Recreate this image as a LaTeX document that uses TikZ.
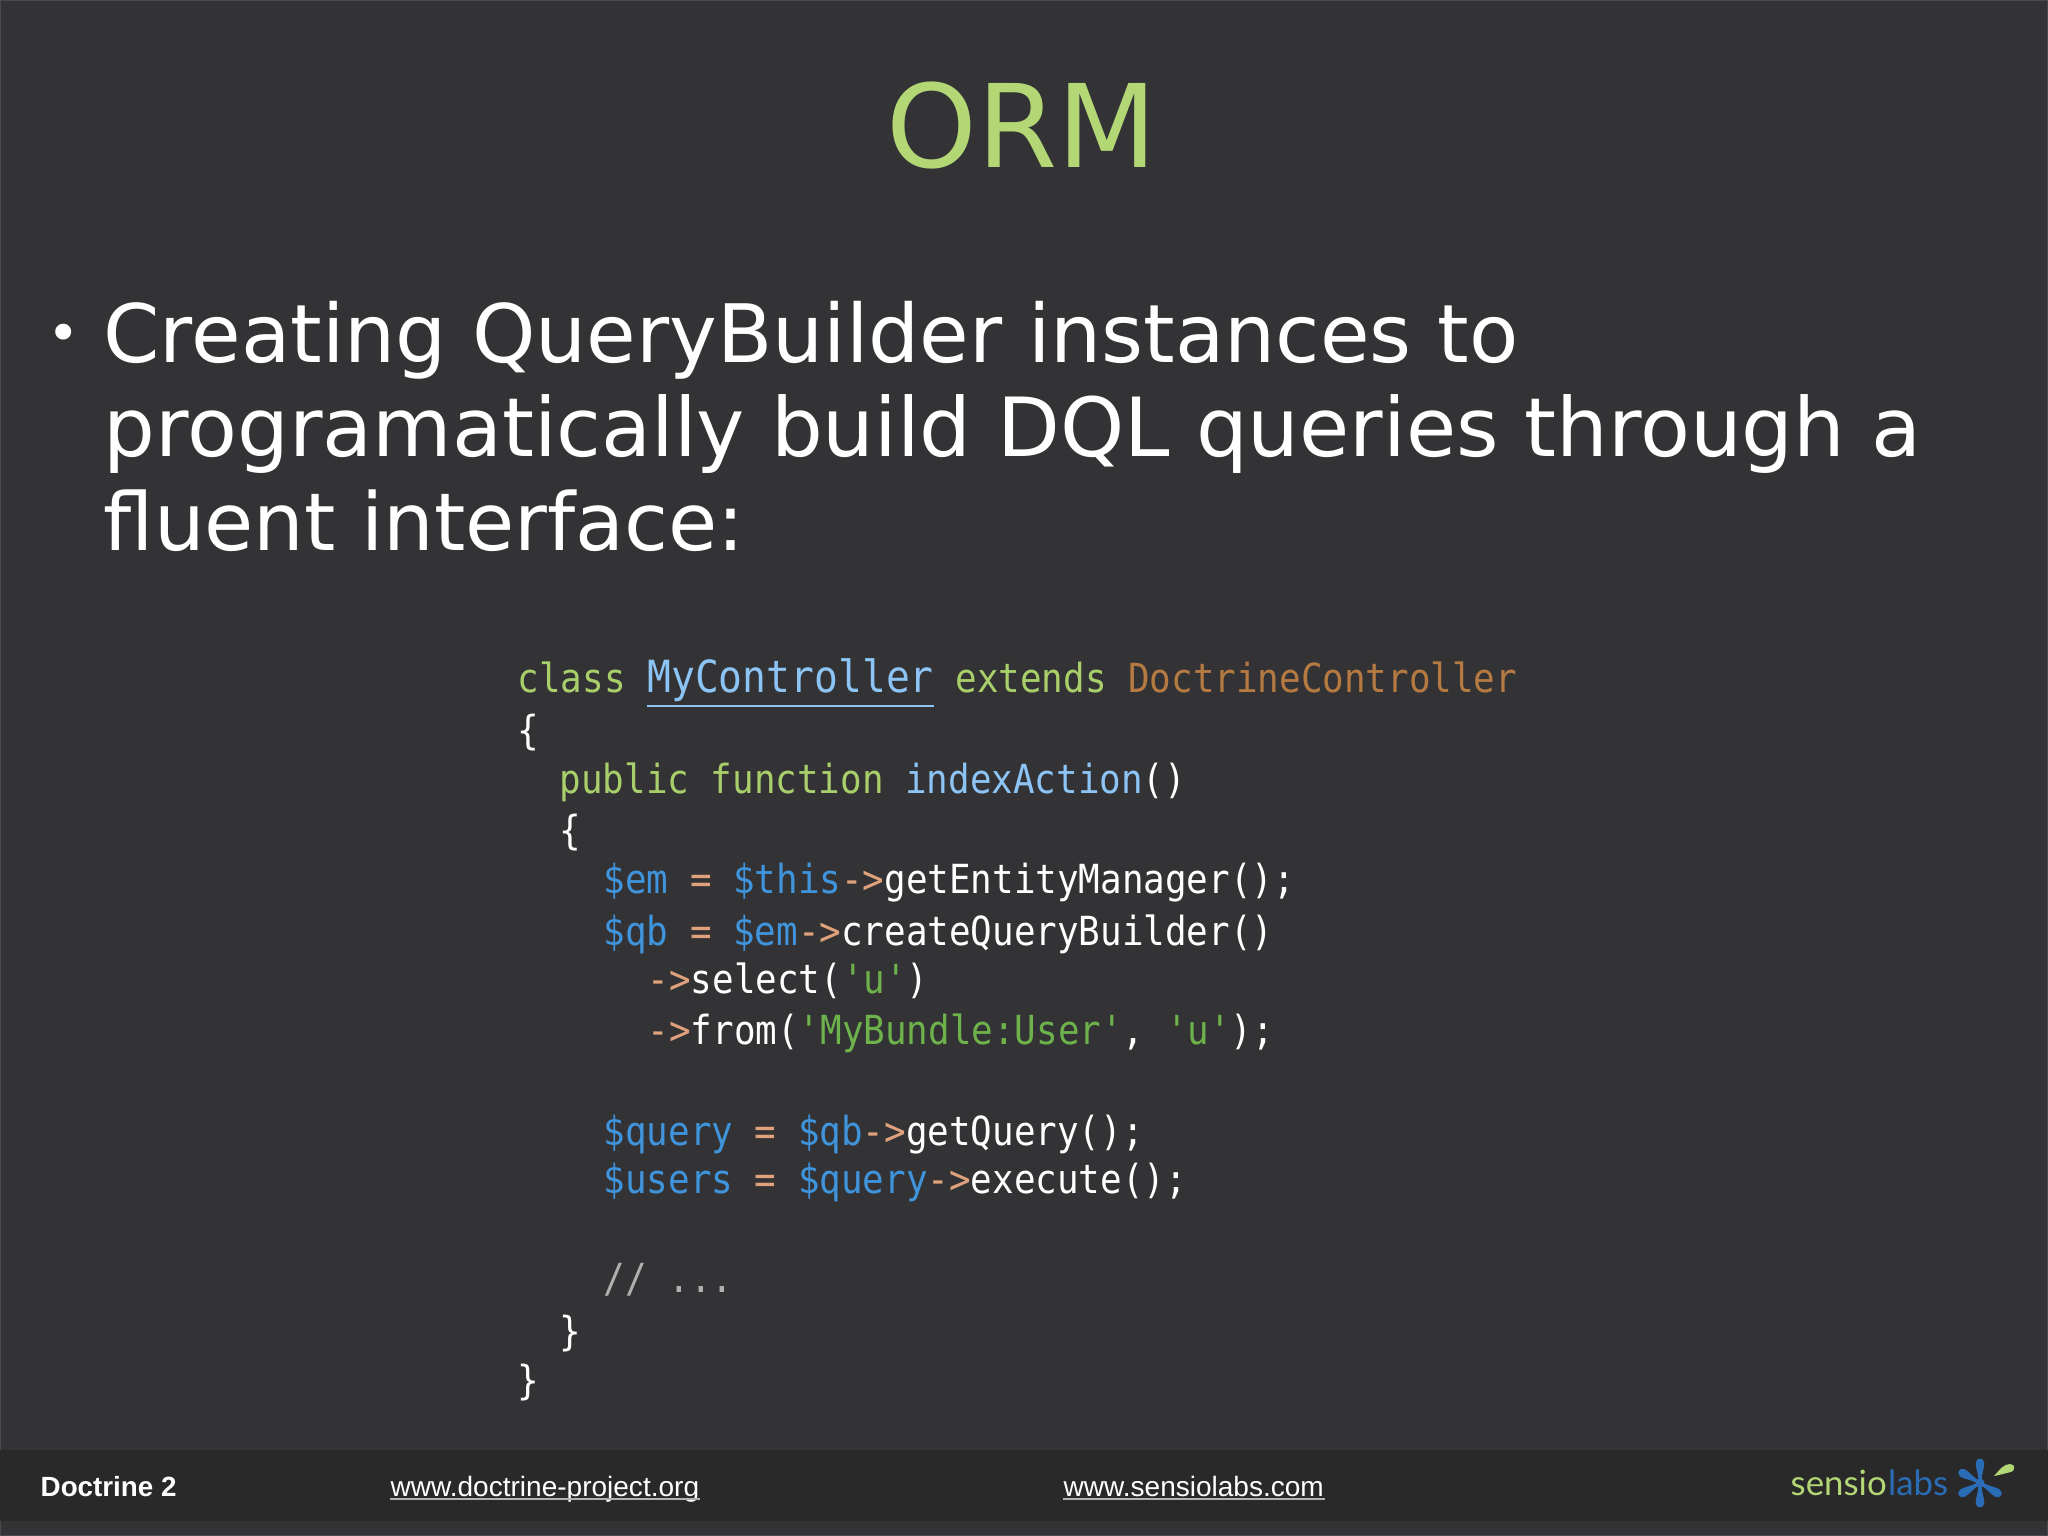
\documentclass[tikz,border=0pt]{standalone}
\usepackage{fontspec}
\usepackage{xcolor}
\setmainfont{DejaVu Sans}
\setmonofont[FakeStretch=0.895]{DejaVu Sans Mono}
\newfontfamily\footfont{Liberation Sans}
\newfontfamily\logofont{Lato}
\definecolor{slidebg}{HTML}{333335}
\definecolor{slideedge}{HTML}{4A4A4C}
\definecolor{footbg}{HTML}{29292A}
\definecolor{titlegreen}{HTML}{B3D775}
\definecolor{kwgreen}{HTML}{A9CF6B}
\definecolor{fnblue}{HTML}{8CC4F5}
\definecolor{varblue}{HTML}{3F94DC}
\definecolor{opsalmon}{HTML}{E0A27C}
\definecolor{strgreen}{HTML}{6DB24A}
\definecolor{parentbrown}{HTML}{B57A42}
\definecolor{commentgrey}{HTML}{B0B0B0}
\definecolor{logoblue}{HTML}{2A6CB5}
\newcommand{\codekw}[1]{\textcolor{kwgreen}{#1}}
\newcommand{\codefn}[1]{\textcolor{fnblue}{#1}}
\newcommand{\codevar}[1]{\textcolor{varblue}{#1}}
\newcommand{\codeop}[1]{\textcolor{opsalmon}{#1}}
\newcommand{\codestr}[1]{\textcolor{strgreen}{#1}}
\tikzset{
  titletext/.style={anchor=base, inner sep=0pt, text=titlegreen, font=\fontsize{32.8}{32.8}\selectfont},
  bodytext/.style={anchor=base west, inner sep=0pt, text=white, font=\fontsize{#1}{#1}\selectfont},
  bodytext/.default=23,
  codeline/.style={anchor=base west, inner sep=0pt, text=white, font=\ttfamily\fontsize{11.4}{11.4}\selectfont},
  foottext/.style={anchor=base west, inner sep=0pt, text=white, font=\footfont\fontsize{7.97}{7.97}\selectfont},
  logotext/.style={anchor=base west, inner sep=0pt, font=\logofont\fontsize{9.9}{9.9}\selectfont},
  footrule/.style={draw=white!70!black, line width=0.45pt},
  petal/.style={fill=logoblue, draw=none}
}
\begin{document}
\begin{tikzpicture}[x=0.01cm, y=-0.01cm]
\useasboundingbox (0,0) rectangle (2048,1536);
\fill[slidebg] (0,0) rectangle (2048,1536);
\draw[slideedge, line width=0.6pt] (0,0) rectangle (2048,1536);
\fill[footbg] (0,1450) rectangle (2048,1521);

\node[titletext] (title) at (1022,167) {ORM};

\node[bodytext=15.6] (bullet) at (47,352) {•};
\node[bodytext=22.93] (bodya) at (103,362) {Creating QueryBuilder instances to};
\node[bodytext=23.2] (bodyb) at (103,456) {programatically build DQL queries through a};
\node[bodytext=22.73] (bodyc) at (103,550) {fluent interface:};

% code lines
\node[codeline] (codea) at (517,692) {\codekw{class} \textcolor{fnblue}{\fontsize{12.6}{12.6}\selectfont\underline{MyController}} \codekw{extends} \textcolor{parentbrown}{DoctrineController}};
\node[codeline] (codeb) at (517,744) {\{};
\node[codeline] (codec) at (559,793) {\codekw{public function} \codefn{indexAction}()};
\node[codeline] (coded) at (559,844) {\{};
\node[codeline] (codee) at (603,893) {\codevar{\$em} \codeop{=} \codevar{\$this}\codeop{->}getEntityManager();};
\node[codeline] (codef) at (603,945) {\codevar{\$qb} \codeop{=} \codevar{\$em}\codeop{->}createQueryBuilder()};
\node[codeline] (codeg) at (647,993) {\codeop{->}select(\codestr{'u'})};
\node[codeline] (codeh) at (647,1044) {\codeop{->}from(\codestr{'MyBundle:User'}, \codestr{'u'});};
\node[codeline] (codei) at (603,1145) {\codevar{\$query} \codeop{=} \codevar{\$qb}\codeop{->}getQuery();};
\node[codeline] (codej) at (603,1193) {\codevar{\$users} \codeop{=} \codevar{\$query}\codeop{->}execute();};
\node[codeline, text=commentgrey] (codek) at (603,1292) {// ...};
\node[codeline] (codel) at (559,1345) {\}};
\node[codeline] (codem) at (517,1394) {\}};

% footer
\node[foottext, font=\footfont\bfseries\fontsize{7.9}{7.9}\selectfont] (footname) at (40,1496) {Doctrine 2};
\node[foottext] (urldoctrine) at (390,1496) {www.doctrine-project.org};
\node[foottext] (urlsensio) at (1063,1496) {www.sensiolabs.com};
\draw[footrule] ([yshift=-0.9pt]urldoctrine.base west) -- ([yshift=-0.9pt]urldoctrine.base east);
\draw[footrule] ([yshift=-0.9pt]urlsensio.base west) -- ([yshift=-0.9pt]urlsensio.base east);

% logo
\node[logotext, text=titlegreen] (logoa) at (1790,1495) {sensio};
\node[logotext, text=logoblue] (logob) at (logoa.base east) {labs};
\coordinate (star) at (1980,1483);
\foreach \ang in {90,150,210,-30,-90} {
  \fill[petal, shift={(star)}, rotate=\ang]
    (0,-1.5) .. controls (10,-1.5) and (15,-4.5) .. (20,-4.3)
    .. controls (26,-3.8) and (26,3.8) .. (20,4.3)
    .. controls (15,4.5) and (10,1.5) .. (0,1.5) -- cycle;
}
\fill[logoblue] (star) circle (4.5);
\fill[titlegreen] (1994,1476) .. controls (2000,1469) and (2004,1464) .. (2010,1464)
  .. controls (2016,1464) and (2015,1471) .. (2011,1472) .. controls (2006,1473) and (2000,1475) .. (1994,1476) -- cycle;
\end{tikzpicture}
\end{document}
